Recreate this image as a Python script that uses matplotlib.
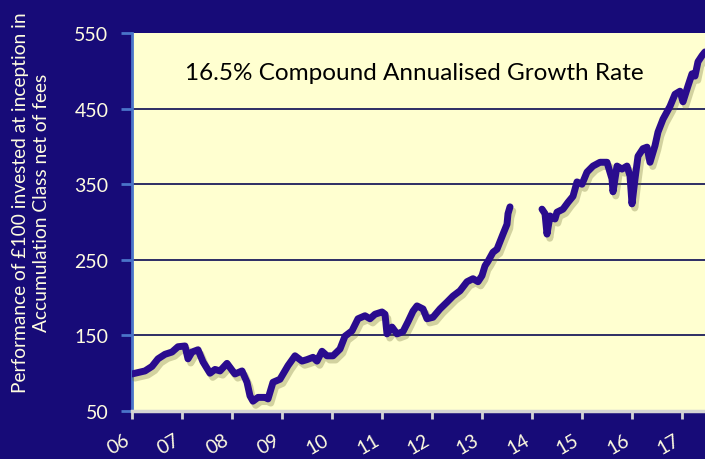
import numpy as np
import matplotlib
matplotlib.use("Agg")
import matplotlib.pyplot as plt
import matplotlib.patheffects as pe

plt.rcParams['font.family'] = ['Lato', 'DejaVu Sans']

# fund value (GBP 100 at inception); NaN = gap in the series
years = [2006.00, 2006.26, 2006.40, 2006.52, 2006.66, 2006.80, 2006.92,
         2007.06, 2007.12, 2007.20, 2007.32, 2007.42, 2007.56, 2007.66, 2007.76, 2007.90,
         2008.00, 2008.06, 2008.20, 2008.30, 2008.36, 2008.42, 2008.52, 2008.66, 2008.72, 2008.82, 2008.96,
         2009.12, 2009.26, 2009.40, 2009.50, 2009.62, 2009.70, 2009.80, 2009.90,
         2010.02, 2010.16, 2010.26, 2010.40, 2010.52, 2010.66, 2010.76, 2010.86,
         2011.00, 2011.06, 2011.10, 2011.20, 2011.30, 2011.42, 2011.52, 2011.62, 2011.70, 2011.82, 2011.90,
         2012.02, 2012.16, 2012.30, 2012.42, 2012.56, 2012.70, 2012.82, 2012.92,
         2013.00, 2013.06, 2013.12, 2013.22, 2013.30, 2013.42, 2013.50, 2013.52, 2013.56,
         2013.90,
         2014.20, 2014.26, 2014.30, 2014.36, 2014.46, 2014.50, 2014.62, 2014.72, 2014.82, 2014.90,
         2015.00, 2015.10, 2015.22, 2015.36, 2015.50, 2015.60, 2015.62, 2015.70, 2015.80, 2015.90, 2015.96,
         2016.00, 2016.06, 2016.12, 2016.22, 2016.30, 2016.36, 2016.46, 2016.52, 2016.62, 2016.76, 2016.86, 2016.96,
         2017.02, 2017.12, 2017.20, 2017.26, 2017.32, 2017.40, 2017.46]
values = [99, 103, 109, 119, 125, 128, 135,
          136, 119, 128, 131, 115, 100, 105, 103, 113,
          104, 99, 103, 88, 70, 63, 68, 68, 66, 88, 92,
          110, 123, 116, 118, 121, 116, 129, 123,
          123, 132, 149, 156, 172, 176, 172, 178,
          181, 178, 152, 161, 152, 155, 168, 182, 189, 185, 172,
          174, 185, 194, 202, 209, 221, 225, 221,
          229, 242, 248, 260, 264, 284, 297, 311, 320,
          np.nan,
          317, 311, 284, 308, 304, 313, 317, 326, 334, 353,
          350, 366, 374, 379, 379, 357, 340, 374, 370, 374, 361,
          324, 357, 387, 397, 399, 379, 401, 419, 436, 453, 469, 473,
          459, 480, 496, 493, 512, 520, 525]

year_ticks = list(range(2006, 2018))
year_labels = ['%02d' % (y % 100) for y in year_ticks]
value_ticks = [50, 150, 250, 350, 450, 550]

navy = '#170b78'
paper = '#ffffd0'
line_col = '#2a0c8e'

fig = plt.figure(figsize=(7.05, 4.6), dpi=100, facecolor=navy)
ax = fig.add_axes([132/705, 1 - 412/460, 1 - 132/705, (412 - 34)/460])
ax.set_facecolor(paper)

ax.plot(years, values, color=line_col, lw=5, solid_capstyle='round', solid_joinstyle='round',
        path_effects=[pe.SimpleLineShadow(offset=(2, -3), shadow_color='#6b6b30', alpha=0.3),
                      pe.Normal()], zorder=3)

ax.set_xlim(2006, 2017.46)
ax.set_ylim(50, 550)
ax.set_yticks(value_ticks)
ax.set_xticks(year_ticks)
ax.set_xticklabels(year_labels, rotation=30, ha='right')

for v in value_ticks[1:-1]:
    ax.axhline(v, color='#1c1c5c', lw=1.3, zorder=1)

for s in ['top', 'right']:
    ax.spines[s].set_visible(False)
ax.spines['left'].set_color('#4a74c9')
ax.spines['left'].set_linewidth(2)
ax.spines['bottom'].set_color('#d4d4d4')
ax.spines['bottom'].set_linewidth(2.5)

ax.tick_params(axis='y', colors='#4a74c9', labelcolor='#fffde0', labelsize=14, length=8, width=2, pad=9)
ax.tick_params(axis='x', colors='#d4d4d4', labelcolor='#fffde0', labelsize=14, length=6, width=2, pad=8)

ax.text(0.492, 0.896, '16.5% Compound Annualised Growth Rate', transform=ax.transAxes,
        ha='center', va='center', fontsize=17.5, color='black')

fig.text(31/705, 1 - 203/460,
         'Performance of \u00a3100 invested at inception in\nAccumulation Class net of fees',
         rotation=90, ha='center', va='center', fontsize=13.8, color='#fffde0', linespacing=1.35)

fig.savefig('out.png', dpi=100, facecolor=navy)
